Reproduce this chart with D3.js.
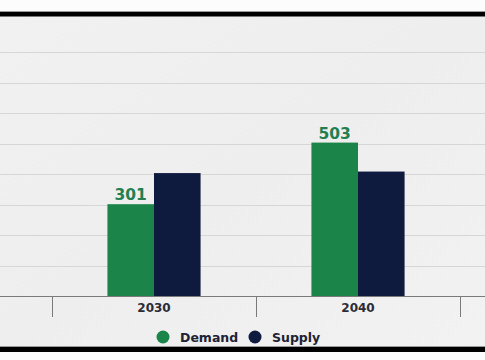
<!DOCTYPE html>
<html><head><meta charset="utf-8">
<script src="https://cdn.jsdelivr.net/npm/d3@7"></script>
<style>html,body{margin:0;padding:0;background:#fff;}svg{display:block;}</style>
</head><body>
<svg id="chart" width="485" height="360"></svg>
<script>
const categories = ["2030", "2040"];
const seriesNames = ["Demand", "Supply"];
const demand = [301, 503];
const supply = [403, 408];
const showLabel = [true, false];
const yTicks = [100, 200, 300, 400, 500, 600, 700, 800];
const colors = ["#1a8449", "#0e1a3e"];

const svg = d3.select("#chart");
const W = 485, H = 360;
const plotTop = 16, plotBottom = 347;
const baseY = 296;
const FONT = "'DejaVu Sans', Verdana, sans-serif";

// background
svg.append("rect").attr("width", W).attr("height", H).attr("fill", "#fcfcfc");
const defs = svg.append("defs");
const grad = defs.append("linearGradient").attr("id", "bg").attr("x1", 0).attr("y1", 0).attr("x2", 1).attr("y2", 1);
grad.append("stop").attr("offset", "0%").attr("stop-color", "#f1f1f1");
grad.append("stop").attr("offset", "50%").attr("stop-color", "#eeeeee");
grad.append("stop").attr("offset", "100%").attr("stop-color", "#f2f2f2");
svg.append("rect").attr("x", 0).attr("y", plotTop).attr("width", W).attr("height", plotBottom - plotTop).attr("fill", "url(#bg)");
// frame bars
svg.append("rect").attr("x", 0).attr("y", 11).attr("width", W).attr("height", 1).attr("fill", "#9a9a9a");
svg.append("rect").attr("x", 0).attr("y", 12).attr("width", W).attr("height", 4.5).attr("fill", "#000");
svg.append("rect").attr("x", 0).attr("y", 346).attr("width", W).attr("height", 1).attr("fill", "#9a9a9a");
svg.append("rect").attr("x", 0).attr("y", 347).attr("width", W).attr("height", 5).attr("fill", "#000");

const y = d3.scaleLinear().domain([0, 800]).range([baseY, 52]);
const x = d3.scaleBand().domain(categories).range([52, 460]).paddingInner(0).paddingOuter(0);
const x1 = d3.scaleBand().domain(seriesNames).range([0, x.bandwidth()]).paddingInner(0).paddingOuter(1.19);

// gridlines
svg.append("g").selectAll("line").data(yTicks).join("line")
  .attr("x1", 0).attr("x2", W)
  .attr("y1", d => Math.round(y(d)) + 0.5).attr("y2", d => Math.round(y(d)) + 0.5)
  .attr("stroke", "#d6d6d6").attr("stroke-width", 1);

// bars
const data = categories.map((c, i) => ({ cat: c, vals: [demand[i], supply[i]] }));
const groups = svg.append("g").selectAll("g").data(data).join("g")
  .attr("transform", d => `translate(${x(d.cat)},0)`);
groups.selectAll("rect").data(d => d.vals.map((v, j) => ({ v, j }))).join("rect")
  .attr("x", d => x1(seriesNames[d.j]))
  .attr("width", x1.bandwidth())
  .attr("y", d => y(d.v))
  .attr("height", d => baseY - y(d.v))
  .attr("fill", d => colors[d.j]);
groups.selectAll("text").data(d => d.vals.map((v, j) => ({ v, j })).filter(e => showLabel[e.j])).join("text")
  .attr("x", d => x1(seriesNames[d.j]) + x1.bandwidth() / 2)
  .attr("y", d => y(d.v) - 4)
  .attr("text-anchor", "middle")
  .attr("font-family", FONT)
  .attr("font-weight", "bold").attr("font-size", 15.5)
  .attr("fill", "#228050")
  .text(d => d.v);

// x axis
const axis = d3.axisBottom(x).tickSize(0).tickPadding(6);
const ag = svg.append("g").attr("transform", `translate(0,${baseY})`).call(axis);
ag.select(".domain").remove();
ag.selectAll("text").attr("font-family", FONT)
  .attr("font-weight", "bold").attr("font-size", 12).attr("fill", "#2a2c36").attr("dy", "0.85em");
svg.append("line").attr("x1", 0).attr("x2", W).attr("y1", baseY + 0.5).attr("y2", baseY + 0.5)
  .attr("stroke", "#7a7a7a").attr("stroke-width", 1);
const bounds = [x.range()[0]].concat(categories.map(c => x(c) + x.bandwidth()));
svg.append("g").selectAll("line").data(bounds).join("line")
  .attr("x1", d => d + 0.5).attr("x2", d => d + 0.5)
  .attr("y1", baseY).attr("y2", baseY + 21)
  .attr("stroke", "#7a7a7a").attr("stroke-width", 1);

// legend
const legend = svg.append("g").attr("font-family", FONT)
  .attr("font-weight", "bold").attr("font-size", 12.5);
const legX = [163, 255];
seriesNames.forEach((s, i) => {
  legend.append("circle").attr("cx", legX[i]).attr("cy", 337).attr("r", 6.5).attr("fill", colors[i]);
  legend.append("text").attr("x", legX[i] + 17).attr("y", 337).attr("dy", "0.36em")
    .attr("fill", "#1e2233").text(s);
});
</script>
</body></html>
